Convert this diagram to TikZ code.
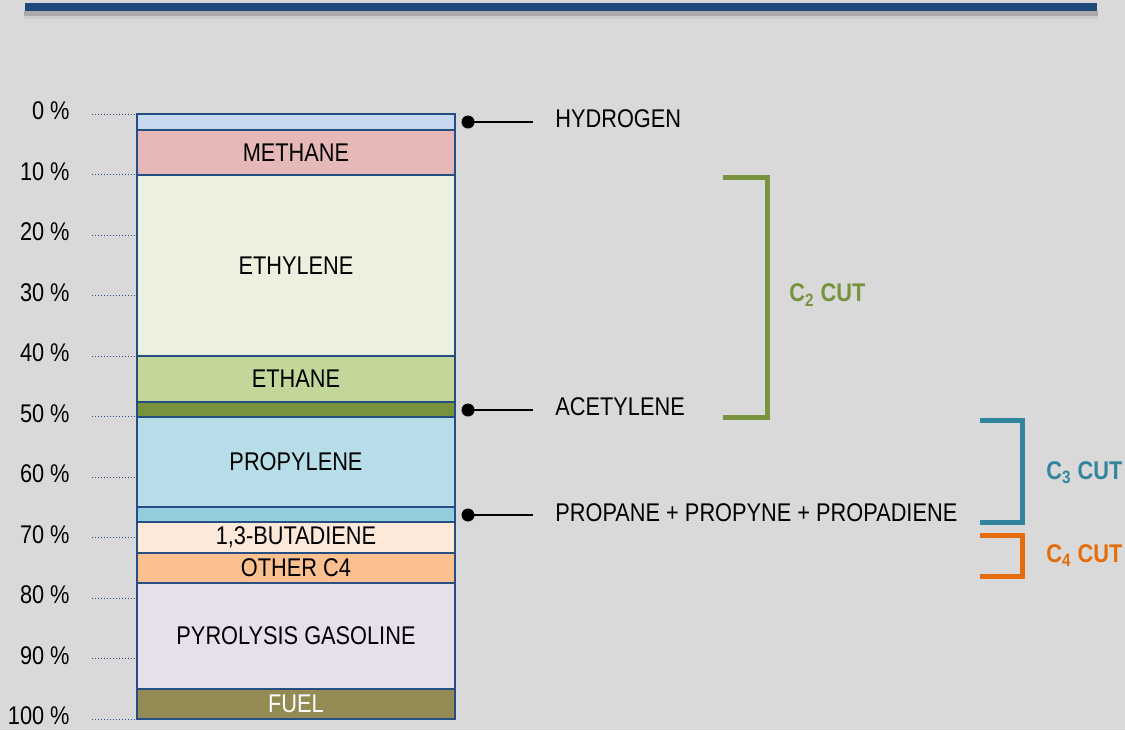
\documentclass[tikz,border=0pt]{standalone}
\usepackage{fontspec}
\setmainfont{Liberation Sans}[FakeStretch=0.85]
\usetikzlibrary{positioning,calc}
\definecolor{BgGray}{HTML}{D9D9D9}
\definecolor{BarBlue}{HTML}{1F497D}
\definecolor{EdgeBlue}{HTML}{254F82}
\definecolor{ShadeGray}{HTML}{ABABAB}
\definecolor{HydCol}{HTML}{C6D9F1}
\definecolor{MethCol}{HTML}{E6B9B8}
\definecolor{EthyCol}{HTML}{EBF1DE}
\definecolor{EthaCol}{HTML}{C4D79B}
\definecolor{AcetCol}{HTML}{77933C}
\definecolor{PropCol}{HTML}{B7DEE8}
\definecolor{PpyCol}{HTML}{93CDDD}
\definecolor{ButaCol}{HTML}{FDE9D9}
\definecolor{OthCol}{HTML}{FAC090}
\definecolor{GasCol}{HTML}{E6E0EC}
\definecolor{FuelCol}{HTML}{948A54}
\definecolor{CTwo}{HTML}{77933C}
\definecolor{CThree}{HTML}{31859C}
\definecolor{CFour}{HTML}{E46C0A}
\newcommand{\Lbl}{\fontsize{12.8}{15}\selectfont}
\tikzset{
  band/.style={draw=EdgeBlue, line width=1.4pt, minimum width=159pt, inner sep=0pt,
               font=\Lbl},
  blob/.style={circle, fill=black, inner sep=0pt, minimum size=6.5pt},
  lead/.style={line width=1pt, black},
  tag/.style={anchor=west, inner sep=0pt, font=\Lbl},
  cut/.style={line width=2.5pt},
  cuttag/.style={anchor=west, inner sep=0pt, font=\Lbl\bfseries},
  tickline/.style={densely dotted, line width=0.5pt, EdgeBlue},
  pct/.style={anchor=east, inner sep=0pt, font=\Lbl},
}

\begin{document}
\begin{tikzpicture}[x=0.5pt, y=-0.5pt]
  \fill[BgGray] (0,0) rectangle (1125,730);
  \useasboundingbox (0,0) rectangle (1125,730);

  % header bar
  \fill[ShadeGray!60] (24,11) rectangle (1098,19);
  \fill[ShadeGray] (24,11) rectangle (1098,16);
  \fill[BarBlue] (25,3) rectangle (1097,11);

  % percent scale
  \foreach \p in {0,...,10}{
    \pgfmathsetmacro\yy{114+60.5*\p}
    \pgfmathtruncatemacro\pc{10*\p}
    \node[pct] (pct\p) at (70,\yy-3) {\pc\ \%};
    \draw[tickline] (92,\yy) -- (137,\yy);
  }

  % the cracked gas column
  \foreach \nm/\ya/\yb/\col/\txt in {
      hyd/114/130/HydCol/{},
      meth/130/175/MethCol/METHANE,
      ethy/175/356/EthyCol/ETHYLENE,
      etha/356/402/EthaCol/ETHANE,
      acet/402/417/AcetCol/{},
      prop/417/507/PropCol/PROPYLENE,
      ppy/507/522/PpyCol/{},
      buta/522/553/ButaCol/{1,3-BUTADIENE},
      oth/553/583/OthCol/OTHER C4,
      gas/583/689/GasCol/PYROLYSIS GASOLINE}{
    \pgfmathsetmacro\hh{(\yb-\ya)*0.5}
    \node[band, fill=\col, minimum height=\hh pt] (\nm) at (296,{(\ya+\yb)/2}) {\txt};
  }
  \node[band, fill=FuelCol, text=white, minimum height=15pt] (fuel) at (296,704) {FUEL};

  % minor components
  \node[blob] (hdot) at (468,122) {};
  \node[tag] (hydrogen) at (555,119) {HYDROGEN};
  \coordinate (hend) at (533,122);
  \draw[lead] (hdot.center) -- (hend);

  \node[blob] (adot) at (468,410) {};
  \node[tag] (acetylene) at (555,407) {ACETYLENE};
  \coordinate (aend) at (533,410);
  \draw[lead] (adot.center) -- (aend);

  \node[blob] (pdot) at (468,515) {};
  \node[tag] (propane) at (555,513) {PROPANE + PROPYNE + PROPADIENE};
  \coordinate (pend) at (533,515);
  \draw[lead] (pdot.center) -- (pend);

  % cuts
  \draw[cut, CTwo] (723,177) -- (767,177) -- (767,417) -- (723,417);
  \node[cuttag, text=CTwo] (ctwo) at (789,295) {C\textsubscript{2} CUT};

  \draw[cut, CThree] (980,420) -- (1022,420) -- (1022,522) -- (980,522);
  \node[cuttag, text=CThree] (cthree) at (1046,473) {C\textsubscript{3} CUT};

  \draw[cut, CFour] (980,535) -- (1022,535) -- (1022,576) -- (980,576);
  \node[cuttag, text=CFour] (cfour) at (1046,556) {C\textsubscript{4} CUT};
\end{tikzpicture}
\end{document}
